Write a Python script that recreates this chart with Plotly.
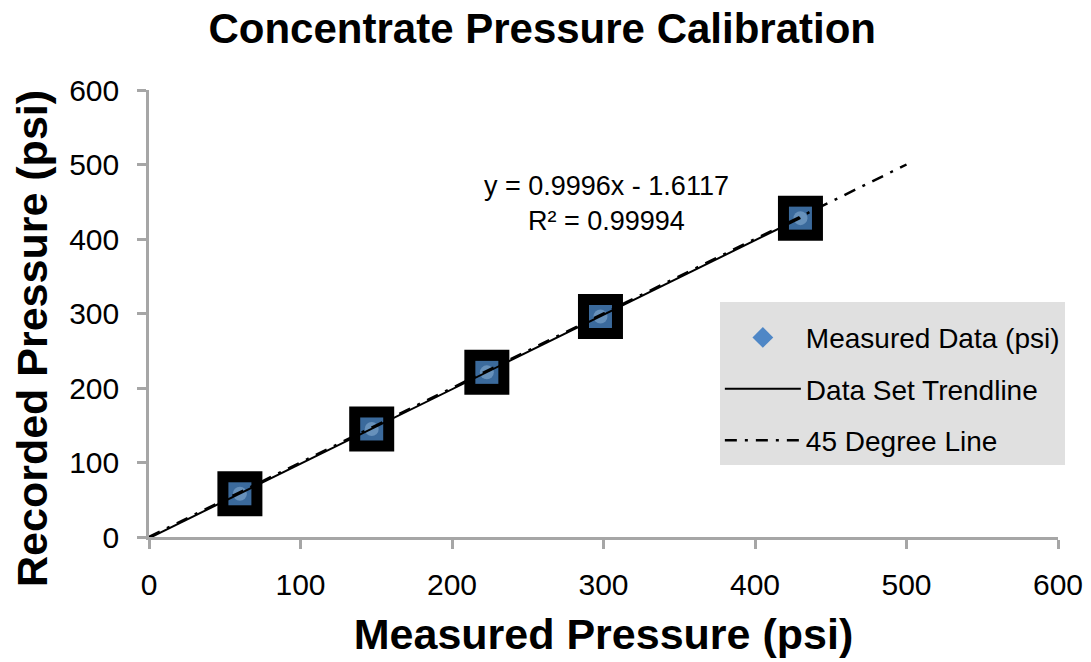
import plotly.graph_objects as go

# Calibration readings (psi)
measured = [60, 147, 223, 298, 430]
recorded = [58, 145, 221, 296, 428]

# Linear fit reported on the chart
slope = 0.9996
intercept = -1.6117
r_squared = 0.99994
trend_x = [0, 430]
trend_y = [slope * x + intercept for x in trend_x]

# Reference 1:1 line
ref_x = [0, 500]
ref_y = [0, 500]

font_family = "Liberation Sans, Arial, sans-serif"

fig = go.Figure()

# Data points: black square frame with a blue glossy centre
fig.add_trace(go.Scatter(
    x=measured, y=recorded, mode="markers", showlegend=False, hoverinfo="skip",
    marker=dict(symbol="square", size=45, color="black", line=dict(width=0)),
))
fig.add_trace(go.Scatter(
    x=measured, y=recorded, mode="markers", showlegend=False,
    marker=dict(symbol="square", size=23, color="#3b6a9c", line=dict(width=0)),
))
fig.add_trace(go.Scatter(
    x=measured, y=recorded, mode="markers", showlegend=False, hoverinfo="skip",
    marker=dict(symbol="circle", size=14, color="#8db1d6", opacity=0.55, line=dict(width=0)),
))
# Legend entry for the data series
fig.add_trace(go.Scatter(
    x=[None], y=[None], mode="markers", name="Measured Data (psi)", legendgroup="a",
    marker=dict(symbol="diamond", size=17, color="#4f87c6", line=dict(width=0)),
))
fig.add_trace(go.Scatter(
    x=trend_x, y=trend_y, mode="lines", name="Data Set Trendline", legendgroup="b",
    line=dict(color="black", width=2),
))
fig.add_trace(go.Scatter(
    x=ref_x, y=ref_y, mode="lines", name="45 Degree Line", legendgroup="c",
    line=dict(color="black", width=2.5, dash="12px,8px,3px,8px"),
))

fig.add_annotation(
    x=302, y=447, xref="x", yref="y", showarrow=False,
    text=f"y = {slope}x - {abs(intercept)}<br>R² = {r_squared}",
    font=dict(family=font_family, size=27, color="black"), align="center",
)

# Vertical axis title, centred a little below the plot middle
fig.add_annotation(
    x=32, y=339, xref="paper", yref="paper", showarrow=False,
    text="<b>Recorded Pressure (psi)</b>", textangle=-90,
    font=dict(family=font_family, size=43, color="black"),
)
fig.layout.annotations[-1].update(
    x=(32 - 149) / 909, y=(537 - 339) / 447, xanchor="center", yanchor="middle",
)

axis_common = dict(
    showgrid=False, zeroline=False, showline=True, linecolor="#a6a6a6", linewidth=2.5,
    ticks="outside", tickcolor="#a6a6a6", ticklen=9, tickwidth=2.5,
    tickfont=dict(family=font_family, size=30, color="black"),
    range=[0, 600], dtick=100, tick0=0, automargin=False,
)

fig.update_layout(
    width=1091, height=662,
    margin=dict(l=149, r=33, t=90, b=125),
    paper_bgcolor="white", plot_bgcolor="white",
    title=dict(
        text="<b>Concentrate Pressure Calibration</b>",
        x=0.497, xanchor="center", y=0.958, yanchor="middle",
        font=dict(family=font_family, size=42, color="black"),
    ),
    xaxis=dict(axis_common, ticklabelstandoff=10, title=dict(
        text="<b>Measured Pressure (psi)</b>", standoff=20,
        font=dict(family=font_family, size=43, color="black"))),
    yaxis=dict(axis_common, ticklabelstandoff=12),
    legend=dict(
        x=0.628, y=0.525, xanchor="left", yanchor="top",
        bgcolor="#e0e0e0", borderwidth=0,
        font=dict(family=font_family, size=28, color="black"),
        itemwidth=76, tracegroupgap=12,
        title=dict(text=" ", font=dict(size=8)),
    ),
    showlegend=True,
)

fig.write_html("out.html")
